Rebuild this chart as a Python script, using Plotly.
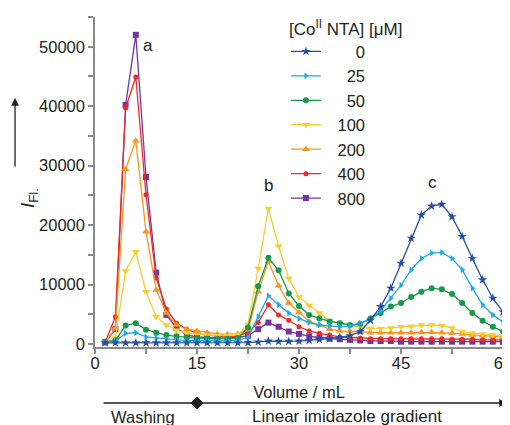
import plotly.graph_objects as go

volume = [1.5, 3, 4.5, 6, 7.5, 9, 10.5, 12, 13.5, 15, 16.5, 18, 19.5, 21, 22.5, 24, 25.5, 27, 28.5, 30,
          31.5, 33, 34.5, 36, 37.5, 39, 40.5, 42, 43.5, 45, 46.5, 48, 49.5, 51, 52.5, 54, 55.5, 57, 58.5, 60]

s0 = [200, 200, 200, 200, 200, 200, 200, 200, 200, 200, 200, 200, 200, 200, 250, 350, 500, 450, 450, 500,
      600, 750, 900, 1100, 1400, 2100, 4000, 6300, 9400, 13600, 17800, 21700, 23200, 23500, 21400, 18100, 14400, 10800, 7700, 5400]
s25 = [400, 500, 1800, 1900, 1200, 1000, 800, 700, 600, 600, 550, 550, 550, 600, 1100, 4600, 8100, 6600, 5200, 4300,
       3600, 3200, 3100, 2900, 3000, 3500, 4100, 5600, 7700, 9900, 12500, 14400, 15300, 15400, 14400, 12500, 9400, 6600, 4900, 3700]
s50 = [300, 600, 3100, 3500, 2400, 1900, 1500, 1300, 1100, 1000, 950, 900, 900, 1000, 2800, 9700, 14500, 12400, 8500, 6400,
       4900, 4300, 3800, 3500, 3200, 3400, 4300, 5200, 6300, 6900, 7900, 8800, 9400, 9200, 8400, 6900, 5200, 3900, 2900, 2100]
s100 = [300, 1000, 12300, 15500, 8800, 4600, 3200, 2300, 1800, 1600, 1500, 1400, 1400, 1600, 3300, 12700, 22800, 16500, 11000, 7900,
        6500, 5200, 3900, 3500, 3300, 2700, 2600, 2600, 2700, 2900, 3000, 3200, 3200, 3100, 2700, 2100, 1800, 1700, 1500, 1300]
s200 = [300, 2600, 29400, 34200, 18900, 9100, 5200, 3200, 2500, 2200, 1900, 1700, 1600, 1700, 2400, 8800, 13900, 9800, 6900, 5300,
        3800, 3200, 2500, 2200, 2100, 2000, 1900, 1900, 1900, 1900, 1900, 2000, 2000, 1900, 1800, 1700, 1500, 1400, 1300, 1200]
s400 = [300, 4600, 39700, 44900, 25100, 11100, 5900, 3500, 2500, 1800, 1500, 1300, 1200, 1300, 2000, 3600, 6600, 4900, 4000, 2900,
        2200, 1800, 1500, 1200, 1100, 1000, 900, 900, 900, 900, 900, 900, 900, 900, 800, 800, 800, 700, 700, 700]
s800 = [300, 2500, 40200, 52000, 28100, 12000, 4900, 2700, 1500, 1200, 1100, 1000, 1000, 1100, 1400, 2500, 3600, 2900, 2100, 1700,
        1300, 1100, 900, 800, 700, 600, 500, 500, 500, 400, 400, 400, 400, 400, 400, 400, 400, 400, 400, 400]

labels = ["0", "25", "50", "100", "200", "400", "800"]
series = [s0, s25, s50, s100, s200, s400, s800]
colors = ["#2450a6", "#1fa9e8", "#18984a", "#f5cf2e", "#f7951f", "#ee2b25", "#7334a0"]
symbols = ["star", "triangle-right", "circle", "triangle-down", "triangle-up", "circle", "square"]
msizes = [7, 6, 6, 7, 7, 5, 6]

FONT = "Liberation Sans, Arial, Helvetica, sans-serif"
TXT = "#231f20"
AX = "#8a8a8a"

fig = go.Figure()
for lab, ys, col, sym, ms in reversed(list(zip(labels, series, colors, symbols, msizes))):
    pad = "\u2007" * (3 - len(lab))
    fig.add_trace(go.Scatter(
        x=volume, y=ys, mode="lines+markers", name="\u2002\u2009" + pad + lab,
        line=dict(color=col, width=1.3),
        marker=dict(symbol=sym, size=ms, color=col),
        cliponaxis=False,
    ))

# page has an 8px body margin, so the figure is 8px smaller and margins shifted
fig.update_layout(
    width=502, height=417,
    margin=dict(l=87, r=7, t=9, b=78, autoexpand=False),
    paper_bgcolor="white", plot_bgcolor="white",
    font=dict(family=FONT, size=16, color=TXT),
    showlegend=True,
    legend=dict(
        traceorder="reversed",
        x=0.468, xanchor="left", y=0.948, yanchor="top",
        bgcolor="rgba(0,0,0,0)",
        font=dict(family=FONT, size=16.5, color=TXT),
        itemwidth=30,
    ),
    xaxis=dict(
        range=[0, 60], showgrid=False, zeroline=False, automargin=False,
        showline=True, linecolor=AX, linewidth=1.5,
        ticks="outside", ticklen=5, tickcolor=AX, tickwidth=1.5,
        tickvals=[0, 15, 30, 45, 60], tickformat="d", tickfont=dict(size=16.5, color=TXT),
        ticklabeloverflow="allow", ticklabelstandoff=-5,
        minor=dict(dtick=7.5, tick0=0, ticks="outside", ticklen=5, tickcolor=AX, tickwidth=1.5),
        title=dict(text="Volume / mL", font=dict(size=16.5, color=TXT), standoff=16),
    ),
    yaxis=dict(
        range=[-500, 55000], showgrid=False, zeroline=False, automargin=False,
        showline=True, linecolor=AX, linewidth=1.5,
        ticks="outside", ticklen=5, tickcolor=AX, tickwidth=1.5,
        tickvals=[0, 10000, 20000, 30000, 40000, 50000], tickformat="d", tickfont=dict(size=16.5, color=TXT),
        minor=dict(dtick=5000, tick0=0, ticks="outside", ticklen=5, tickcolor=AX, tickwidth=1.5),
    ),
)

ann = [
    dict(x=0.4706, y=0.967, xref="paper", yref="paper", text="[Co<sup>II</sup> NTA] [μM]",
         xanchor="left", yanchor="middle", showarrow=False, font=dict(size=17)),
    dict(x=7.8, y=50200, xref="x", yref="y", text="a", showarrow=False, font=dict(size=17)),
    dict(x=25.5, y=26600, xref="x", yref="y", text="b", showarrow=False, font=dict(size=17)),
    dict(x=49.6, y=27100, xref="x", yref="y", text="c", showarrow=False, font=dict(size=17)),
    dict(x=-0.196, y=0.4515, xref="paper", yref="paper", text="<i>I</i><sub>Fl.</sub>", textangle=-90,
         showarrow=False, font=dict(size=19)),
    dict(x=-0.196, y=0.7545, xref="paper", yref="paper", text="", showarrow=True,
         ax=0, ay=70, axref="pixel", ayref="pixel", arrowhead=2, arrowsize=1.2, arrowwidth=1.3, arrowcolor=TXT),
    dict(x=1.0098, y=-0.1697, xref="paper", yref="paper", text="", showarrow=True,
         ax=-405, ay=0, axref="pixel", ayref="pixel", arrowhead=2, arrowsize=1.2, arrowwidth=1.3, arrowcolor=TXT),
    dict(x=7.0, y=-0.212, xref="x", yref="paper", text="Washing", showarrow=False,
         yanchor="middle", font=dict(size=16.5)),
    dict(x=37.1, y=-0.212, xref="x", yref="paper", text="Linear imidazole gradient", showarrow=False,
         yanchor="middle", font=dict(size=17)),
]
fig.update_layout(annotations=ann)
fig.add_shape(type="path", xref="x", yref="paper", xsizemode="pixel", ysizemode="pixel",
              xanchor=15, yanchor=-0.1697, path="M-6,0 L0,6 L6,0 L0,-6 Z",
              fillcolor=TXT, line=dict(color=TXT, width=1))

fig.write_html("out.html")
